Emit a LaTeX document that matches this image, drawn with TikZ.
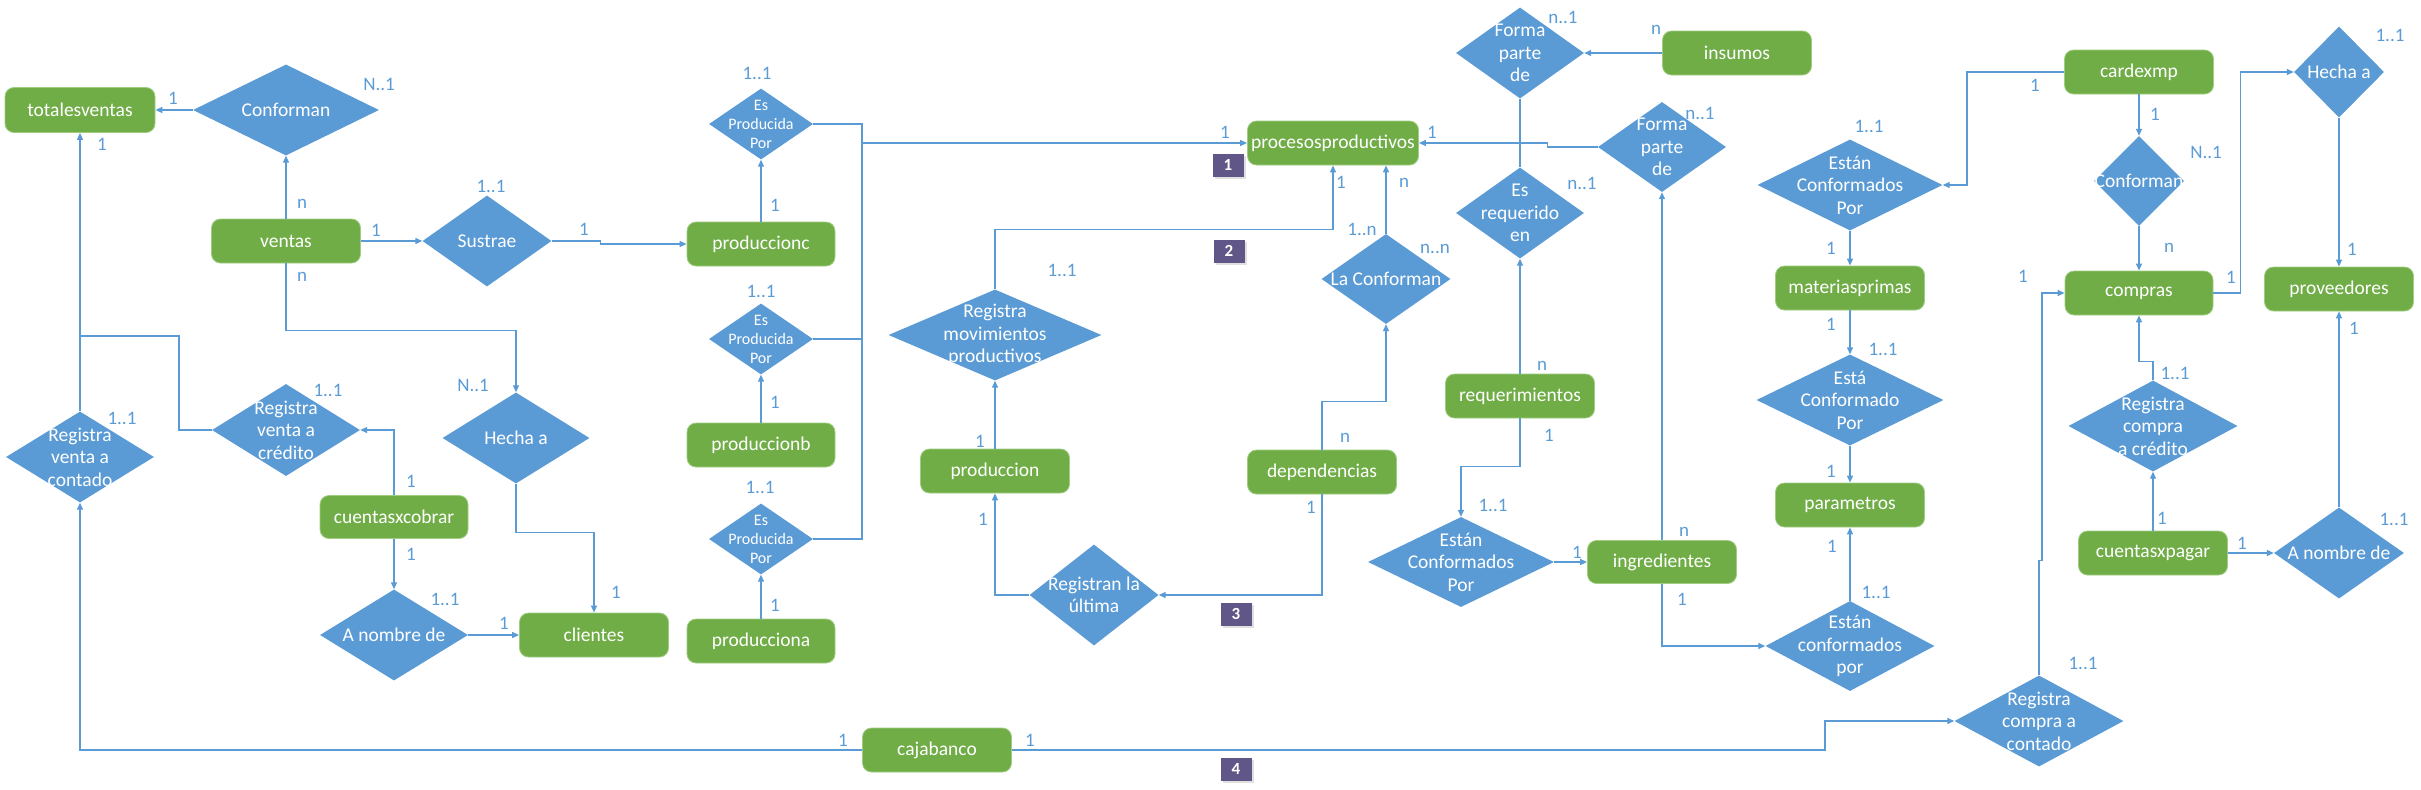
\documentclass[tikz,border=0pt]{standalone}
\usepackage{fontspec}
\setmainfont{Carlito}
\usetikzlibrary{shapes.geometric,arrows.meta,shadows}
\definecolor{entgreen}{RGB}{112,173,71}
\definecolor{entborder}{RGB}{160,205,130}
\definecolor{relblue}{RGB}{91,155,213}
\definecolor{linkblue}{RGB}{91,155,213}
\definecolor{tagpurple}{RGB}{96,86,136}
\newcommand{\relnode}[6][]{%
  \node[reln,minimum width=#4pt,minimum height=#5pt] (#2) at (#3) {};
  \node[reltxt,#1] (#2-t) at (#2.center) {#6};}
\begin{document}
\begin{tikzpicture}[x=1pt,y=-1pt,
  ent/.style={rectangle,rounded corners=9pt,fill=entgreen,draw=entborder,line width=0.8pt,
    text=white,font=\fontsize{19.5}{22}\selectfont,minimum width=149pt,minimum height=44pt,inner sep=0pt},
  reln/.style={diamond,fill=relblue,draw=none,inner sep=0pt},
  reltxt/.style={text=white,align=center,font=\fontsize{19.5}{22.5}\selectfont,inner sep=0pt},
  smalltxt/.style={font=\fontsize{16}{19}\selectfont},
  card/.style={text=linkblue,font=\fontsize{19}{21}\selectfont,inner sep=0pt},
  link/.style={draw=linkblue,line width=1.3pt},
  arr/.style={link,-{Triangle[length=7pt,width=6pt]}},
  tag/.style={fill=tagpurple,text=white,font=\bfseries\fontsize{17}{19}\selectfont,
    minimum width=31pt,minimum height=23pt,inner sep=0pt,
    drop shadow={shadow xshift=2pt,shadow yshift=-2pt,fill=black!12,opacity=1}}
]
\useasboundingbox (0,0) rectangle (2421,790);

% ---------- entities ----------
\node[ent,minimum width=150pt,minimum height=45pt] (tv) at (80,110) {totalesventas};
\node[ent] (ventas) at (286,241) {ventas};
\node[ent,minimum width=148pt,minimum height=43pt] (cxc) at (394,517) {cuentasxcobrar};
\node[ent] (clientes) at (594,635) {clientes};
\node[ent,minimum width=148pt] (pc) at (761,244) {produccionc};
\node[ent,minimum width=148pt] (pb) at (761,445) {produccionb};
\node[ent,minimum width=148pt] (pa) at (761,641) {producciona};
\node[ent] (prod) at (995,471) {produccion};
\node[ent,minimum width=171pt] (pp) at (1333,143) {procesosproductivos};
\node[ent] (dep) at (1322,472) {dependencias};
\node[ent] (caja) at (937,750) {cajabanco};
\node[ent] (insumos) at (1737,53) {insumos};
\node[ent] (req) at (1520,396) {requerimientos};
\node[ent,minimum height=43pt] (ingr) at (1662,562) {ingredientes};
\node[ent] (mp) at (1850,288) {materiasprimas};
\node[ent] (param) at (1850,505) {parametros};
\node[ent] (cardexmp) at (2139,72) {cardexmp};
\node[ent,minimum width=148pt] (compras) at (2139,293) {compras};
\node[ent] (prov) at (2339,289) {proveedores};
\node[ent] (cxp) at (2153,553) {cuentasxpagar};

% ---------- relationships ----------
\relnode{conf1}{286,110}{186}{91}{Conforman}
\relnode{sust}{487,241}{129}{91}{Sustrae}
\relnode{rvc}{80,457}{148}{91}{Registra\\venta a\\contado}
\relnode{rvcr}{286,430}{148}{92}{Registra\\venta a\\crédito}
\relnode{hecha1}{516,438}{147}{91}{Hecha a}
\relnode{anom1}{394,635}{148}{91}{A nombre de}
\relnode[smalltxt]{epc}{761,124}{104}{71}{Es\\Producida\\Por}
\relnode[smalltxt]{epb}{761,339}{104}{71}{Es\\Producida\\Por}
\relnode[smalltxt]{epa}{761,539}{104}{71}{Es\\Producida\\Por}
\relnode{rmp}{995,335}{213}{91}{Registra\\movimientos\\productivos}
\relnode{rlu}{1094,595}{129}{101}{Registran la\\última}
\relnode{lacf}{1386,279}{129}{90}{La Conforman}
\relnode{fpd1}{1520,53}{128}{91}{Forma\\parte\\de}
\relnode{fpd2}{1662,147}{128}{90}{Forma\\parte\\de}
\relnode{ere}{1520,213}{128}{91}{Es\\requerido\\en}
\relnode{ecp1}{1461,562}{186}{90}{Están\\Conformados\\Por}
\relnode{ecp2}{1850,185}{185}{91}{Están\\Conformados\\Por}
\relnode{ecp3}{1850,400}{187}{91}{Está\\Conformado\\Por}
\relnode{ecp4}{1850,646}{169}{90}{Están\\conformados\\por}
\relnode{conf2}{2139,181}{90}{90}{Conforman}
\relnode{hecha2}{2339,72}{90}{91}{Hecha a}
\relnode{rccr}{2153,426}{169}{91}{Registra\\compra\\a crédito}
\relnode{anom2}{2339,553}{130}{91}{A nombre de}
\relnode{rcc}{2039,721}{169}{91}{Registra\\compra a\\contado}

% ---------- tags ----------
\node[tag] (t1) at (1228,165) {1};
\node[tag] (t2) at (1229,251) {2};
\node[tag] (t3) at (1236,614) {3};
\node[tag] (t4) at (1236,769) {4};

% ---------- connectors ----------
\coordinate (j1) at (80,336);
\coordinate (j1b) at (179,336);
\coordinate (busT) at (862,124);
\coordinate (busB) at (862,539);

\draw[arr] (conf1.west) -- (tv.east);
\draw[arr] (ventas.north) -- (conf1.south);
\draw[arr] (ventas.east) -- (sust.west);
\draw[arr] (sust.east) -- ++(49,0) |- (pc.west);
\draw[arr] (ventas.south) -- ++(0,67) -| (hecha1.north);
\draw[arr] (hecha1.south) -- ++(0,49) -| (clientes.north);
\draw[arr] (rvc.north) -- (tv.south);
\draw[link] (rvcr.west) -| (j1b) -- (j1);
\draw[arr] (cxc.north) |- (rvcr.east);
\draw[arr] (cxc.south) -- (anom1.north);
\draw[arr] (anom1.east) -- (clientes.west);
\draw[arr] (pc.north) -- (epc.south);
\draw[arr] (pb.north) -- (epb.south);
\draw[arr] (pa.north) -- (epa.south);
\draw[link] (epc.east) -- (busT) -- (busB) -- (epa.east);
\draw[link] (epb.east) -- (epb.east -| busT);
\draw[arr] (busT |- pp.west) -- (pp.west);
\draw[arr] (rmp.north) -- ++(0,-60) -| (pp.south);
\draw[arr] (prod.north) -- (rmp.south);
\draw[arr] (rlu.west) -| (prod.south);
\draw[arr] (dep.south) |- (rlu.east);
\draw[arr] (dep.north) -- ++(0,-48) -| (lacf.south);
\draw[arr] (lacf.north) -- (lacf.north |- pp.south);
\draw[arr] (insumos.west) -- (fpd1.east);
\draw[link] (fpd1.south) -- (ere.north);
\draw[arr] (req.north) -- (ere.south);
\draw[arr] (fpd2.west) -- ++(-50,0) |- (pp.east);
\draw[arr] (ingr.north) -- (fpd2.south);
\draw[arr] (req.south) -- ++(0,48) -| (ecp1.north);
\draw[arr] (ecp1.east) -- (ingr.west);
\draw[arr] (ingr.south) |- (ecp4.west);
\draw[arr] (ecp4.north) -- (param.south);
\draw[arr] (ecp3.south) -- (param.north);
\draw[arr] (mp.south) -- (ecp3.north);
\draw[arr] (ecp2.south) -- (mp.north);
\draw[arr] (cardexmp.west) -- ++(-97,0) |- (ecp2.east);
\draw[arr] (cardexmp.south) -- (conf2.north);
\draw[arr] (conf2.south) -- (compras.north);
\draw[arr] (compras.east) -- ++(27,0) |- (hecha2.west);
\draw[arr] (hecha2.south) -- (prov.north);
\draw[arr] (anom2.north) -- (prov.south);
\draw[arr] (cxp.east) -- (anom2.west);
\draw[arr] (cxp.north) -- (rccr.south);
\draw[arr] (rccr.north) -- ++(0,-19) -| (compras.south);
\draw[arr] (rcc.north) -- ++(0,-115) -- ++(3,0) |- (compras.west);
\draw[arr] (caja.west) -| (rvc.south);
\draw[arr] (caja.east) -- ++(813,0) |- (rcc.west);

% ---------- cardinalities ----------
\node[card] (k1) at (173,98) {1};
\node[card] (k2) at (379,84) {N..1};
\node[card] (k3) at (102,144) {1};
\node[card] (k4) at (302,204) {n};
\node[card] (k5) at (302,277) {n};
\node[card] (k6) at (376,230) {1};
\node[card] (k7) at (491,186) {1..1};
\node[card] (k8) at (584,229) {1};
\node[card] (k9) at (122,418) {1..1};
\node[card] (k10) at (328,390) {1..1};
\node[card] (k11) at (473,385) {N..1};
\node[card] (k12) at (411,481) {1};
\node[card] (k13) at (411,554) {1};
\node[card] (k14) at (445,599) {1..1};
\node[card] (k15) at (504,623) {1};
\node[card] (k16) at (616,592) {1};
\node[card] (k17) at (757,73) {1..1};
\node[card] (k18) at (775,205) {1};
\node[card] (k19) at (761,291) {1..1};
\node[card] (k20) at (775,402) {1};
\node[card] (k21) at (760,487) {1..1};
\node[card] (k22) at (775,605) {1};
\node[card] (k23) at (1225,132) {1};
\node[card] (k24) at (1062,270) {1..1};
\node[card] (k25) at (980,441) {1};
\node[card] (k26) at (983,519) {1};
\node[card] (k27) at (1311,507) {1};
\node[card] (k28) at (1345,438) {n};
\node[card] (k29) at (1341,182) {1};
\node[card] (k30) at (1404,183) {n};
\node[card] (k31) at (1362,229) {1..n};
\node[card] (k32) at (1435,249) {n..n};
\node[card] (k33) at (1432,132) {1};
\node[card] (k34) at (1563,17) {n..1};
\node[card] (k35) at (1656,30) {n};
\node[card] (k36) at (1582,183) {n..1};
\node[card] (k37) at (1700,113) {n..1};
\node[card] (k38) at (1542,366) {n};
\node[card] (k39) at (1549,435) {1};
\node[card] (k40) at (1493,505) {1..1};
\node[card] (k41) at (1577,552) {1};
\node[card] (k42) at (1684,532) {n};
\node[card] (k43) at (1682,599) {1};
\node[card] (k44) at (1876,592) {1..1};
\node[card] (k45) at (1832,546) {1};
\node[card] (k46) at (1831,471) {1};
\node[card] (k47) at (1883,349) {1..1};
\node[card] (k48) at (1831,324) {1};
\node[card] (k49) at (1831,248) {1};
\node[card] (k50) at (1869,126) {1..1};
\node[card] (k51) at (2035,85) {1};
\node[card] (k52) at (2155,114) {1};
\node[card] (k53) at (2206,152) {N..1};
\node[card] (k54) at (2169,248) {n};
\node[card] (k55) at (2023,276) {1};
\node[card] (k56) at (2231,277) {1};
\node[card] (k57) at (2390,35) {1..1};
\node[card] (k58) at (2352,249) {1};
\node[card] (k59) at (2354,328) {1};
\node[card] (k60) at (2175,373) {1..1};
\node[card] (k61) at (2162,518) {1};
\node[card] (k62) at (2242,543) {1};
\node[card] (k63) at (2394,519) {1..1};
\node[card] (k64) at (2083,663) {1..1};
\node[card] (k65) at (843,740) {1};
\node[card] (k66) at (1030,740) {1};
\end{tikzpicture}
\end{document}
